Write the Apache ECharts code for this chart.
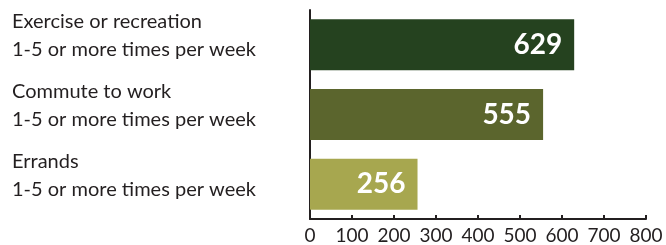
<!DOCTYPE html>
<html>
<head>
<meta charset="utf-8">
<script src="https://cdn.jsdelivr.net/npm/echarts@6/dist/echarts.min.js"></script>
<style>
  html, body { margin: 0; padding: 0; background: #fff; }
  #main { width: 666px; height: 245px; }
</style>
</head>
<body>
<div id="main"></div>
<script>
// activity categories and counts
var categories = [
  'Exercise or recreation\n1-5 or more times per week',
  'Commute to work\n1-5 or more times per week',
  'Errands\n1-5 or more times per week'
];
var counts = [629, 555, 256];
var barColors = ['#25421f', '#5b652d', '#a7a74f'];
var xTicks = [0, 100, 200, 300, 400, 500, 600, 700, 800];

var chart = echarts.init(document.getElementById('main'));

var option = {
  animation: false,
  grid: { left: 310, right: 20, top: 10, bottom: 25 },
  xAxis: {
    type: 'value',
    min: xTicks[0],
    max: xTicks[xTicks.length - 1],
    interval: 100,
    splitLine: { show: false },
    axisLine: { show: true, lineStyle: { color: '#231f20', width: 2 } },
    axisTick: { show: true, inside: true, length: 4, lineStyle: { color: '#231f20', width: 2 } },
    axisLabel: { color: '#231f20', fontFamily: 'Lato', fontSize: 19, margin: 7 }
  },
  yAxis: {
    type: 'category',
    inverse: true,
    data: categories,
    axisLine: { show: true, lineStyle: { color: '#231f20', width: 2 } },
    axisTick: { show: false },
    axisLabel: {
      interval: 0,
      align: 'left',
      margin: 298,
      color: '#231f20',
      fontFamily: 'Lato',
      fontSize: 20,
      lineHeight: 28,
      // extra short line below pushes the two text lines upward
      formatter: function (v) { return v + '\n{gap|}'; },
      rich: { gap: { lineHeight: 18 } }
    }
  },
  series: [{
    type: 'bar',
    barWidth: 51,
    data: counts.map(function (v, i) {
      return { value: v, itemStyle: { color: barColors[i] } };
    }),
    label: {
      show: true,
      position: 'insideRight',
      distance: 12,
      color: '#fff',
      fontFamily: 'Lato',
      fontWeight: 'bold',
      fontSize: 28
    }
  }]
};

option && chart.setOption(option);
</script>
</body>
</html>
